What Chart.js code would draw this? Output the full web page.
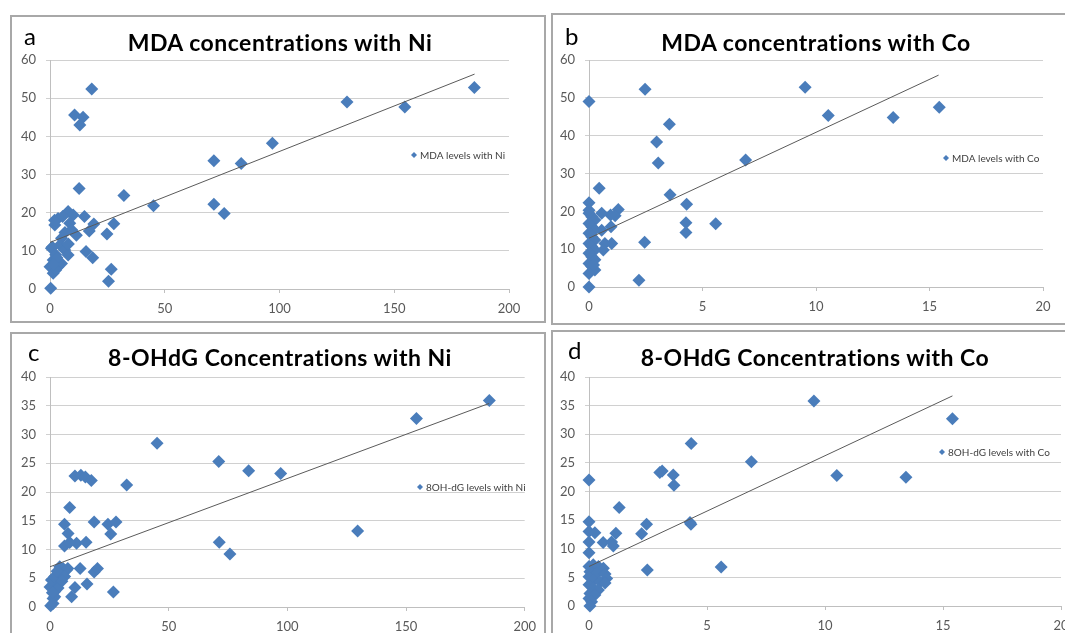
<!DOCTYPE html>
<html>
<head>
<meta charset="utf-8">
<script src="https://cdn.jsdelivr.net/npm/chart.js@4.4.1/dist/chart.umd.min.js"></script>
<style>
html, body { margin: 0; padding: 0; background: #fff; width: 1065px; height: 633px; overflow: hidden; position: relative; }
.panel { position: absolute; border: 2px solid #a8a8a8; box-sizing: border-box; }
canvas { position: absolute; }
.ttl { position: absolute; font: bold 23px Lato, sans-serif; letter-spacing: 0.5px; color: #000; transform: translateX(-50%); white-space: nowrap; line-height: 24px; }
.lt { position: absolute; font: 24px Lato, sans-serif; color: #000; line-height: 24px; }
</style>
</head>
<body>
<div class="panel" style="left:10px;top:15px;width:536px;height:308px"></div>
<div class="panel" style="left:551px;top:13px;width:520px;height:312px"></div>
<div class="panel" style="left:10px;top:332px;width:536px;height:310px"></div>
<div class="panel" style="left:551px;top:330px;width:520px;height:310px"></div>

<canvas id="ca" width="532" height="305" style="left:12px;top:17px"></canvas>
<canvas id="cb" width="530" height="308" style="left:553px;top:15px"></canvas>
<canvas id="cc" width="531" height="298" style="left:13px;top:335px"></canvas>
<canvas id="cd" width="530" height="301" style="left:553px;top:332px"></canvas>

<div class="lt" style="left:24px;top:24px">a</div>
<div class="lt" style="left:565px;top:24px">b</div>
<div class="lt" style="left:28px;top:340px">c</div>
<div class="lt" style="left:568px;top:338px">d</div>
<div class="ttl" style="left:280px;top:30px">MDA concentrations with Ni</div>
<div class="ttl" style="left:816px;top:30px">MDA concentrations with Co</div>
<div class="ttl" style="left:280px;top:345px">8-OHdG Concentrations with Ni</div>
<div class="ttl" style="left:815px;top:345px">8-OHdG Concentrations with Co</div>

<script>
// tick labels
var niTicks = [0, 50, 100, 150, 200];
var coTicks = [0, 5, 10, 15, 20];
var mdaTicks = [0, 10, 20, 30, 40, 50, 60];
var ohdgTicks = [0, 5, 10, 15, 20, 25, 30, 35, 40];

// a: MDA vs Ni  [x, y]
var mdaNi = [
  [0.3,0.2],[18.2,52.4],[10.7,45.6],[14.4,45],[13,43],[12.7,26.3],[32.2,24.5],[45.1,21.8],
  [71.4,33.6],[71.4,22.2],[75.9,19.8],[83.3,32.9],[96.9,38.2],[129.4,49],[154.6,47.7],[184.9,52.8],
  [27.8,17.1],[19.1,17],[17.1,15.2],[24.8,14.4],[15,19],[15.7,9.8],[18.6,8.2],[25.5,2],[26.7,5.2],
  [3.5,18.5],[7.9,20.3],[10.1,19.4],[2.1,16.8],[8.6,17.2],[9.4,15.5],[11.5,14.1],[5,13.3],
  [0.6,10.7],[4.3,11.5],[6.4,10.2],[7.9,8.9],[1.4,7.6],[0,5.8],[3.5,5.8],[1.4,4.1],[5,6.7],
  [2,18],[5.5,19],[8,11.8],[1,11],[2.5,9],[3,8.2],[2.5,5],[6.5,14.8],[1.5,6.5]
];
var mdaNiTrendX = [0, 185];
var mdaNiTrendY = [12.2, 56.3];

// b: MDA vs Co
var mdaCo = [
  [0,49],[2.47,52.3],[3.54,43],[2.98,38.3],[3.05,32.8],[0.45,26.1],[3.57,24.4],[4.3,21.9],
  [4.27,17],[4.27,14.4],[5.58,16.7],[6.9,33.6],[9.52,52.8],[10.54,45.3],[13.4,44.8],[15.43,47.5],
  [2.45,11.8],[2.2,1.8],[0,0],[0,22.3],[1.29,20.5],[1.15,18.8],[0.95,19],[0.56,19.5],[0.97,15.9],
  [0.56,15],[1.0,11.5],[0.7,11.5],[0.63,9.8],
  [0,19.5],[0.12,18.6],[0.26,17.7],[0,16.8],[0.12,15.9],[0.26,15.1],[0,14.2],[0.12,13.3],
  [0.26,12.4],[0,11.5],[0.12,10.7],[0.26,9.8],[0,8.9],[0.12,8],[0.26,7.2],[0,6.2],[0.12,5.4],
  [0.26,4.5],[0,3.6],[0,20.3],[0.2,5.8]
];
var mdaCoTrendX = [0, 15.4];
var mdaCoTrendY = [12.9, 56];

// c: 8-OHdG vs Ni
var ohdgNi = [
  [0.3,0.2],[185.1,35.9],[154.4,32.8],[45.1,28.5],[71.1,25.3],[83.7,23.7],[97.2,23.2],[32.3,21.2],
  [129.6,13.2],[71.3,11.25],[75.8,9.2],[10.5,22.8],[13,22.9],[14.9,22.6],[17.4,22],[8.3,17.3],
  [6.1,14.4],[18.6,14.8],[24.4,14.4],[27.8,14.8],[25.6,12.7],[7.6,12.8],[6.1,10.6],[11.2,11.1],
  [15.2,11.25],[8.3,11.2],[12.7,6.7],[18.6,6.1],[20,6.7],[15.6,4],[10.5,3.4],[9.1,1.8],[26.7,2.6],
  [1.3,1.5],[2,2.7],[0,3.5],[2.7,4.1],[4.1,5],[5.5,5.9],[6.9,6.4],[4.1,7],[5.5,6.7],[0.6,4.7],
  [2,5.3],[3.4,3.3],[2,1.8],[1.3,0.6],[4.8,5.6],[7.5,6.7],[6.2,5.3],[3,6.2],[5,4.5],[1,2.5]
];
var ohdgNiTrendX = [0, 185];
var ohdgNiTrendY = [7.0, 35.4];

// d: 8-OHdG vs Co
var ohdgCo = [
  [0,22],[9.53,35.8],[15.4,32.7],[4.33,28.4],[6.88,25.2],[3,23.3],[3.1,23.6],[3.57,22.9],[3.6,21.1],
  [10.5,22.8],[13.43,22.5],[1.28,17.2],[0,14.7],[2.44,14.3],[4.28,14.6],[4.32,14.3],[0,13],
  [0.25,12.8],[1.14,12.7],[2.23,12.6],[0,11.2],[0.6,11.1],[0.96,11.2],[1.03,10.5],[0,9.3],
  [2.47,6.3],[5.6,6.8],
  [0,6.9],[0.18,7.2],[0.4,6.9],[0.61,6.6],[0.04,6],[0.33,5.7],[0.68,5.6],[0.75,4.8],[0,5.1],
  [0.18,4.5],[0.47,4.2],[0.68,4],[0,3.7],[0.18,3.1],[0.4,2.8],[0.04,2.2],[0.25,1.9],[0,1.3],
  [0.11,0.75],[0.04,0]
];
var ohdgCoTrendX = [0, 15.4];
var ohdgCoTrendY = [6.9, 36.7];

var BLUE = '#4a7dbb';

var legendPlugin = {
  id: 'fakeLegend',
  afterDraw: function (chart, args, opts) {
    var ctx = chart.ctx, r = 3;
    ctx.save();
    ctx.fillStyle = BLUE;
    ctx.beginPath();
    ctx.moveTo(opts.x - r, opts.y);
    ctx.lineTo(opts.x, opts.y - r);
    ctx.lineTo(opts.x + r, opts.y);
    ctx.lineTo(opts.x, opts.y + r);
    ctx.closePath();
    ctx.fill();
    ctx.fillStyle = '#404040';
    ctx.font = '10px Lato';
    ctx.textBaseline = 'middle';
    ctx.fillText(opts.text, opts.x + 6, opts.y + 1);
    ctx.restore();
  }
};

function pairs(xs, ys) {
  return xs.map(function (x, i) { return { x: x, y: ys[i] }; });
}

function scatter(id, points, trendX, trendY, xTicks, yTicks, box, legend) {
  new Chart(document.getElementById(id), {
    type: 'scatter',
    data: {
      datasets: [
        {
          data: points.map(function (p) { return { x: p[0], y: p[1] }; }),
          pointStyle: 'rectRot', pointRadius: 6.5, borderWidth: 0,
          backgroundColor: BLUE, borderColor: BLUE, order: 2, clip: false
        },
        {
          type: 'line', data: pairs(trendX, trendY),
          borderColor: '#5a5a5a', borderWidth: 1, pointRadius: 0, fill: false, order: 1
        }
      ]
    },
    options: {
      responsive: false, animation: false, events: [],
      layout: { padding: { left: 0, top: box.top, right: box.right, bottom: 0 } },
      plugins: { legend: { display: false }, tooltip: { enabled: false }, fakeLegend: legend },
      scales: {
        x: {
          type: 'linear', min: xTicks[0], max: xTicks[xTicks.length - 1],
          afterBuildTicks: function (s) { s.ticks = xTicks.map(function (v) { return { value: v }; }); },
          afterFit: function (s) { s.height = box.xh; },
          grid: { drawOnChartArea: false, drawTicks: true, tickLength: 4, color: '#bfbfbf' },
          border: { color: '#bfbfbf' },
          ticks: { color: '#595959', font: { family: 'Lato', size: 13 }, padding: 8, maxRotation: 0 }
        },
        y: {
          min: yTicks[0], max: yTicks[yTicks.length - 1],
          afterBuildTicks: function (s) { s.ticks = yTicks.map(function (v) { return { value: v }; }); },
          afterFit: function (s) { s.width = box.yw; },
          grid: { color: '#d0d0d0', tickLength: 4 },
          border: { color: '#bfbfbf' },
          ticks: { color: '#595959', font: { family: 'Lato', size: 13 }, padding: 10 }
        }
      }
    },
    plugins: [legendPlugin]
  });
}

scatter('ca', mdaNi, mdaNiTrendX, mdaNiTrendY, niTicks, mdaTicks,
  { top: 43, right: 35, yw: 38, xh: 33 }, { x: 402, y: 138, text: 'MDA levels with Ni' });
scatter('cb', mdaCo, mdaCoTrendX, mdaCoTrendY, coTicks, mdaTicks,
  { top: 45, right: 40, yw: 36, xh: 36 }, { x: 393, y: 143, text: 'MDA levels with Co' });
scatter('cc', ohdgNi, ohdgNiTrendX, ohdgNiTrendY, niTicks, ohdgTicks,
  { top: 42, right: 14, yw: 37, xh: 26 }, { x: 407, y: 152, text: '8OH-dG levels with Ni' });
scatter('cd', ohdgCo, ohdgCoTrendX, ohdgCoTrendY, coTicks, ohdgTicks,
  { top: 45, right: 22, yw: 36, xh: 27 }, { x: 389, y: 120, text: '8OH-dG levels with Co' });
</script>
</body>
</html>
